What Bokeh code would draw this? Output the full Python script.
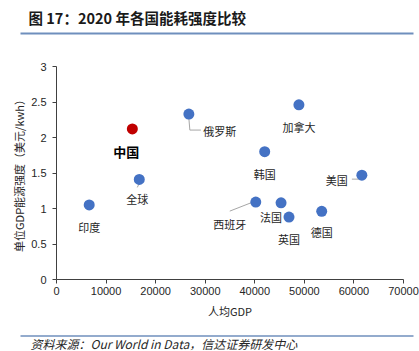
from bokeh.plotting import figure
from bokeh.layouts import column, row
from bokeh.models import Range1d, ColumnDataSource, FixedTicker
from bokeh.core.properties import value
from bokeh.embed import file_html
from bokeh.resources import INLINE

# ---- data ----
countries = ["中国", "俄罗斯", "加拿大", "韩国", "美国", "全球", "印度", "西班牙", "法国", "英国", "德国"]
gdp_per_capita = [15300, 26700, 48900, 42000, 61600, 16700, 6600, 40200, 45300, 46900, 53500]
energy_intensity = [2.12, 2.33, 2.46, 1.80, 1.47, 1.41, 1.05, 1.09, 1.08, 0.88, 0.96]
highlight = "中国"
x_ticks = [0, 10000, 20000, 30000, 40000, 50000, 60000, 70000]
y_ticks = [0, 0.5, 1, 1.5, 2, 2.5, 3]

title_text = "图 17：2020 年各国能耗强度比较"
source_text = "资料来源：Our World in Data，信达证券研发中心"
x_label = "人均GDP"
y_label = "单位GDP能源强度（美元/kwh）"

# label placement (screen px offsets from point, +y is down)
label_dx = {"中国": -6, "俄罗斯": 31, "加拿大": 0, "韩国": 0, "美国": -25, "全球": -2,
            "印度": 0, "西班牙": -26, "法国": -10, "英国": 0, "德国": 0}
label_dy = {"中国": 23, "俄罗斯": 17, "加拿大": 22, "韩国": 22, "美国": 5, "全球": 20,
            "印度": 22, "西班牙": 22, "法国": 14, "英国": 22, "德国": 21}
# leader line paths (screen px offsets from point)
leaders = {
    "俄罗斯": [(0, 4), (1, 16), (12, 16)],
    "全球": [(0, 4), (-2, 8)],
    "美国": [(-10, 4), (-3, 4), (0, 1)],
    "西班牙": [(-26, 9), (-3, 0)],
}

FONT_CJK = "Noto Sans CJK SC"
FONT_NUM = "Liberation Sans"
W = 419
X0, X1, Y0, Y1 = 0, 70000, 0, 3
HDR_H, MAIN_H, FTR_H = 40, 286, 25
BL, BR, BT = 56, 16, 26
FH = 213
BB = MAIN_H - BT - FH
FW = W - BL - BR
sx = FW / (X1 - X0)
sy = FH / (Y1 - Y0)


def blank(h):
    f = figure(width=W, height=h, x_range=Range1d(0, W), y_range=Range1d(h, 0),
               toolbar_location=None, output_backend="svg", min_border=0)
    f.axis.visible = False
    f.grid.visible = False
    f.outline_line_color = None
    return f


# ---- header ----
hdr = blank(HDR_H)
hdr.text(x=[28], y=[17], text=[title_text], text_font=value(FONT_CJK), text_font_style="bold",
         text_font_size="14.5px", text_color="#1a1a1a", text_baseline="middle", text_align="left")
hdr.segment(x0=[20], y0=[33], x1=[413], y1=[33], line_color="#6f8fbd", line_width=2)

# ---- main ----
p = figure(width=W, height=MAIN_H, x_range=Range1d(X0, X1), y_range=Range1d(Y0, Y1),
           toolbar_location=None, output_backend="svg",
           min_border_left=BL, min_border_right=BR, min_border_top=BT, min_border_bottom=BB)
p.grid.visible = False
p.outline_line_color = None
for ax in (p.xaxis[0], p.yaxis[0]):
    ax.axis_line_color = "#404040"
    ax.major_tick_line_color = "#404040"
    ax.minor_tick_line_color = None
    ax.major_tick_in = 0
    ax.major_tick_out = 4
    ax.major_label_text_font = FONT_NUM
    ax.major_label_text_font_size = "11px"
    ax.major_label_text_color = "#262626"
    ax.axis_label_text_font = FONT_CJK
    ax.axis_label_text_font_size = "11px"
    ax.axis_label_text_font_style = "normal"
    ax.axis_label_text_color = "#262626"
p.xaxis.ticker = FixedTicker(ticks=x_ticks)
p.yaxis.ticker = FixedTicker(ticks=y_ticks)
p.xaxis.major_label_overrides = {t: str(t) for t in x_ticks}
p.yaxis.major_label_overrides = {t: (str(int(t)) if float(t).is_integer() else str(t)) for t in y_ticks}
p.xaxis.axis_label = x_label
p.yaxis.axis_label = y_label
p.xaxis.major_label_standoff = 3
p.yaxis.major_label_standoff = 6
p.xaxis.axis_label_standoff = 5
p.yaxis.axis_label_standoff = 1

# leader lines
lx, ly = [], []
for c, path in leaders.items():
    i = countries.index(c)
    lx.append([gdp_per_capita[i] + dx / sx for dx, dy in path])
    ly.append([energy_intensity[i] - dy / sy for dx, dy in path])
p.multi_line(xs=lx, ys=ly, line_color="#a6a6a6", line_width=1)

colors = ["#c00000" if c == highlight else "#4472c4" for c in countries]
src = ColumnDataSource(dict(x=gdp_per_capita, y=energy_intensity, name=countries, color=colors,
                            dx=[label_dx[c] for c in countries], dy=[label_dy[c] for c in countries],
                            fs=["bold" if c == highlight else "normal" for c in countries],
                            fsz=["13px" if c == highlight else "11px" for c in countries],
                            tc=["#000000" if c == highlight else "#262626" for c in countries]))
p.scatter("x", "y", source=src, size=11, fill_color="color", line_color="color", line_width=0)
p.text("x", "y", text="name", source=src, x_offset="dx", y_offset="dy",
       text_align="center", text_baseline="middle", text_font=value(FONT_CJK),
       text_font_style="fs", text_font_size="fsz", text_color="tc")

# ---- footer ----
ftr = blank(FTR_H)
ftr.segment(x0=[20], y0=[9.5], x1=[413], y1=[9.5], line_color="#6f8fbd", line_width=1.5)
ftr.text(x=[30], y=[16.5], text=[source_text], text_font=value(FONT_CJK),
         text_font_style="italic", text_font_size="12px", text_color="#262626",
         text_baseline="middle", text_align="left")

layout = column(hdr, row(p), ftr, spacing=0)
open("out.html", "w").write(file_html(layout, INLINE))
